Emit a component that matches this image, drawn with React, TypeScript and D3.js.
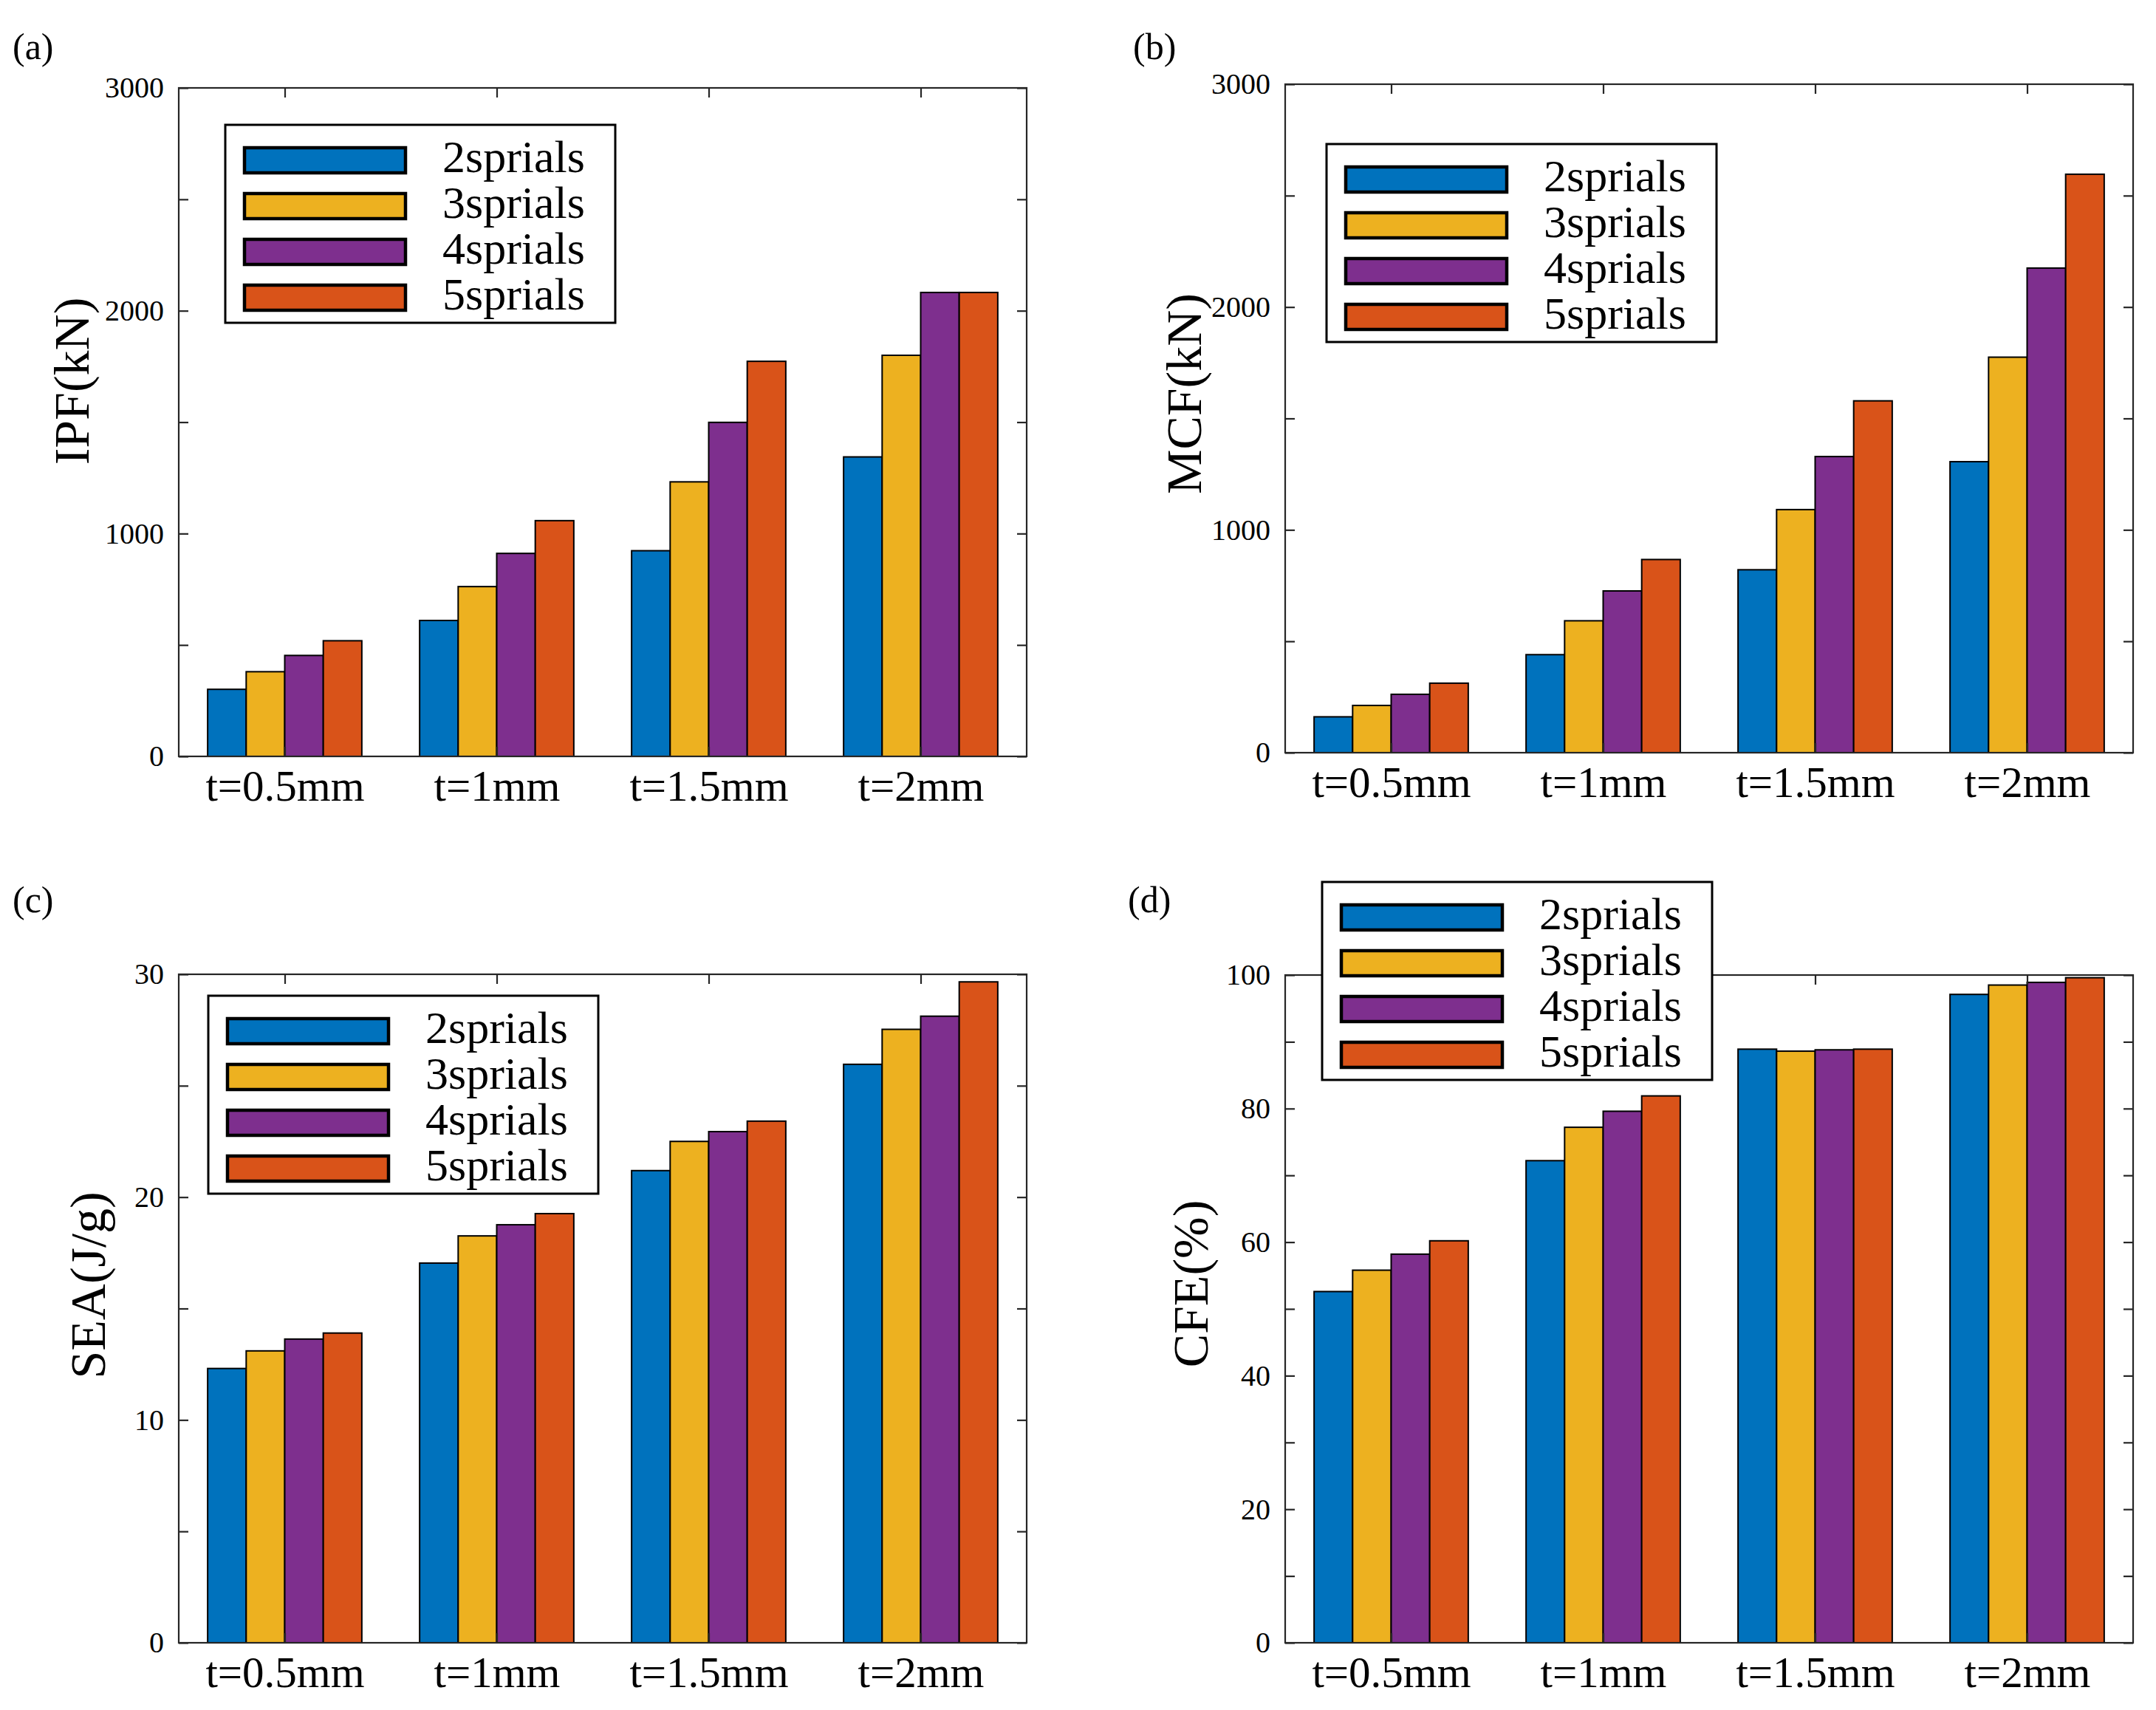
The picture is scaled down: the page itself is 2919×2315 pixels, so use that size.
import React, { useEffect, useRef } from "react";
import * as d3 from "d3";

const categories = ["t=0.5mm", "t=1mm", "t=1.5mm", "t=2mm"];
const seriesNames = ["2sprials", "3sprials", "4sprials", "5sprials"];
const seriesColors = ["#0072BD", "#EDB120", "#7E2F8E", "#D95319"];

// one row per series (2..5 sprials), one value per thickness
const ipfValues = [
  [301, 610, 923, 1344],
  [380, 762, 1232, 1800],
  [453, 911, 1499, 2082],
  [519, 1058, 1773, 2082],
];
const mcfValues = [
  [161, 440, 821, 1306],
  [212, 592, 1091, 1775],
  [262, 726, 1329, 2175],
  [312, 867, 1579, 2596],
];
const seaValues = [
  [12.31, 17.04, 21.19, 25.96],
  [13.1, 18.26, 22.5, 27.53],
  [13.63, 18.76, 22.94, 28.12],
  [13.9, 19.26, 23.41, 29.66],
];
const cfeValues = [
  [52.6, 72.2, 88.9, 97.1],
  [55.8, 77.2, 88.6, 98.5],
  [58.2, 79.6, 88.8, 98.9],
  [60.2, 81.9, 88.9, 99.6],
];

const forceTicks = [0, 500, 1000, 1500, 2000, 2500, 3000];
const seaTicks = [0, 5, 10, 15, 20, 25, 30];
const cfeTicks = [0, 10, 20, 30, 40, 50, 60, 70, 80, 90, 100];

const FONT = "'Liberation Serif', 'Times New Roman', serif";

type Panel = {
  tag: string;
  ylabel: string;
  values: number[][];
  ymax: number;
  ticks: number[];
  labelEvery: number;
  box: { x0: number; x1: number; y0: number; y1: number };
  legend: { x: number; y: number };
  ylabelPos: { x: number; y: number };
  tagPos: { x: number; y: number };
};

const panels: Panel[] = [
  {
    tag: "(a)",
    ylabel: "IPF(kN)",
    values: ipfValues,
    ymax: 3000,
    ticks: forceTicks,
    labelEvery: 1000,
    box: { x0: 242, x1: 1390, y0: 119, y1: 1024 },
    legend: { x: 305, y: 169 },
    ylabelPos: { x: 120, y: 516 },
    tagPos: { x: 17, y: 80 },
  },
  {
    tag: "(b)",
    ylabel: "MCF(kN)",
    values: mcfValues,
    ymax: 3000,
    ticks: forceTicks,
    labelEvery: 1000,
    box: { x0: 1740, x1: 2888, y0: 114, y1: 1019 },
    legend: { x: 1796, y: 195 },
    ylabelPos: { x: 1626, y: 533 },
    tagPos: { x: 1534, y: 80 },
  },
  {
    tag: "(c)",
    ylabel: "SEA(J/g)",
    values: seaValues,
    ymax: 30,
    ticks: seaTicks,
    labelEvery: 10,
    box: { x0: 242, x1: 1390, y0: 1319, y1: 2224 },
    legend: { x: 282, y: 1348 },
    ylabelPos: { x: 142, y: 1740 },
    tagPos: { x: 17, y: 1235 },
  },
  {
    tag: "(d)",
    ylabel: "CFE(%)",
    values: cfeValues,
    ymax: 100,
    ticks: cfeTicks,
    labelEvery: 20,
    box: { x0: 1740, x1: 2888, y0: 1320, y1: 2224 },
    legend: { x: 1790, y: 1194 },
    ylabelPos: { x: 1635, y: 1738 },
    tagPos: { x: 1527, y: 1235 },
  },
];

const App = () => {
  const svgRef = useRef<SVGSVGElement | null>(null);

  useEffect(() => {
    document.body.style.margin = "0";
    const svg = d3.select(svgRef.current);
    svg.selectAll("*").remove();

    const axisColor = "#262626";
    const tickLen = 13;

    panels.forEach((p) => {
      const { x0, x1, y0, y1 } = p.box;
      const g = svg.append("g");

      // groups: MATLAB grouped bar width = 4/5.5 of a slot
      const groupFrac = 4 / 5.5;
      const x = d3
        .scaleBand()
        .domain(categories)
        .range([x0, x1])
        .paddingInner(1 - groupFrac)
        .paddingOuter((1 - groupFrac) / 2);
      const xs = d3
        .scaleBand()
        .domain(seriesNames)
        .range([0, x.bandwidth()])
        .padding(0);
      const y = d3.scaleLinear().domain([0, p.ymax]).range([y1, y0]);

      // bars
      seriesNames.forEach((s, si) => {
        g.append("g")
          .selectAll("rect")
          .data(p.values[si])
          .enter()
          .append("rect")
          .attr("x", (_, i) => x(categories[i])! + xs(s)!)
          .attr("y", (d) => y(d))
          .attr("width", xs.bandwidth())
          .attr("height", (d) => y(0) - y(d))
          .attr("fill", seriesColors[si])
          .attr("stroke", "#000")
          .attr("stroke-width", 2);
      });

      // axes box
      g.append("rect")
        .attr("x", x0)
        .attr("y", y0)
        .attr("width", x1 - x0)
        .attr("height", y1 - y0)
        .attr("fill", "none")
        .attr("stroke", axisColor)
        .attr("stroke-width", 2.2);

      const fmt = (d: d3.NumberValue) =>
        +d % p.labelEvery === 0 ? String(d) : "";

      // y axis left
      const left = g
        .append("g")
        .attr("transform", `translate(${x0},0)`)
        .call(
          d3
            .axisLeft(y)
            .tickValues(p.ticks)
            .tickSize(-tickLen)
            .tickPadding(20)
            .tickFormat(fmt)
        );
      left.select(".domain").remove();
      left.selectAll("line").attr("stroke", axisColor).attr("stroke-width", 2.2);
      left
        .selectAll("text")
        .attr("font-family", FONT)
        .attr("font-size", 40)
        .attr("fill", "#000");

      // y axis right (ticks only)
      const right = g
        .append("g")
        .attr("transform", `translate(${x1},0)`)
        .call(d3.axisRight(y).tickValues(p.ticks).tickSize(-tickLen).tickFormat(() => ""));
      right.select(".domain").remove();
      right.selectAll("line").attr("stroke", axisColor).attr("stroke-width", 2.2);

      // x axis top (ticks only)
      const xc = d3
        .scalePoint()
        .domain(categories)
        .range([x0, x1])
        .padding(0.5);
      const top = g
        .append("g")
        .attr("transform", `translate(0,${y0})`)
        .call(d3.axisTop(xc).tickSize(-tickLen).tickFormat(() => ""));
      top.select(".domain").remove();
      top.selectAll("line").attr("stroke", axisColor).attr("stroke-width", 2.2);

      // x axis bottom
      const bottom = g
        .append("g")
        .attr("transform", `translate(0,${y1})`)
        .call(d3.axisBottom(xc).tickSize(-tickLen));
      bottom.select(".domain").remove();
      bottom.selectAll("line").attr("stroke", axisColor).attr("stroke-width", 2.2);
      bottom
        .selectAll("text")
        .attr("y", 60)
        .attr("dy", null)
        .attr("font-family", FONT)
        .attr("font-size", 59)
        .attr("fill", "#000");

      // y label
      g.append("text")
        .attr("transform", `translate(${p.ylabelPos.x},${p.ylabelPos.y}) rotate(-90)`)
        .attr("text-anchor", "middle")
        .attr("font-family", FONT)
        .attr("font-size", 68)
        .text(p.ylabel);

      // panel tag
      g.append("text")
        .attr("x", p.tagPos.x)
        .attr("y", p.tagPos.y)
        .attr("font-family", FONT)
        .attr("font-size", 50)
        .text(p.tag);

      // legend
      const lg = g.append("g").attr("transform", `translate(${p.legend.x},${p.legend.y})`);
      lg.append("rect")
        .attr("width", 528)
        .attr("height", 268)
        .attr("fill", "#fff")
        .attr("stroke", "#000")
        .attr("stroke-width", 3);
      seriesNames.forEach((s, si) => {
        const cy = 48 + si * 62;
        lg.append("rect")
          .attr("x", 26)
          .attr("y", cy - 17)
          .attr("width", 218)
          .attr("height", 34)
          .attr("fill", seriesColors[si])
          .attr("stroke", "#000")
          .attr("stroke-width", 4.5);
        lg.append("text")
          .attr("x", 294)
          .attr("y", cy + 16)
          .attr("font-family", FONT)
          .attr("font-size", 62)
          .text(s);
      });
    });
  }, []);

  return (
    <svg
      ref={svgRef}
      width={2919}
      height={2315}
      style={{ display: "block", background: "#fff" }}
    ></svg>
  );
};

export default App;
